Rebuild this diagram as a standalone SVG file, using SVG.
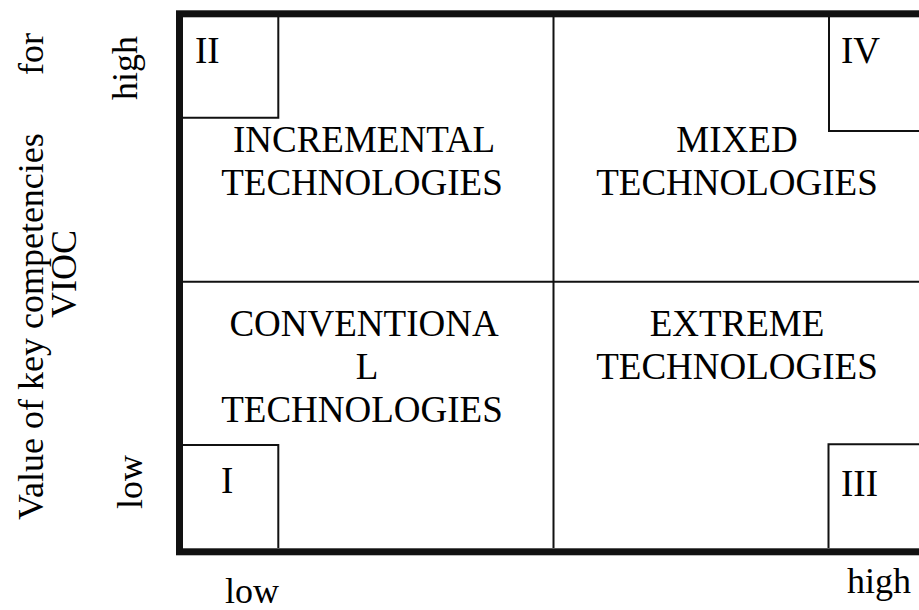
<svg xmlns="http://www.w3.org/2000/svg" width="919" height="610" viewBox="0 0 919 610">
<style>
text{font-family:"Liberation Serif","Times New Roman",serif;font-size:37px;fill:#000}
.c{text-anchor:middle}
.thin{fill:none;stroke:#111;stroke-width:2}
</style>
<rect x="0" y="0" width="919" height="610" fill="#fff"/>
<g id="axis-labels">
<text transform="translate(43,520) rotate(-90)" style="font-size:36px">Value of key competencies</text>
<text transform="translate(43,33) rotate(-90)" text-anchor="end" style="font-size:36px">for</text>
<text class="c" transform="translate(76,274) rotate(-90)" style="font-size:36px">VIOC</text>
<text class="c" transform="translate(137,68) rotate(-90)" style="font-size:36px">high</text>
<text class="c" transform="translate(142,482) rotate(-90)" style="font-size:36px">low</text>
<text class="c" x="252" y="603" style="font-size:36px">low</text>
<text x="847" y="593" style="font-size:36px">high</text>
</g>
<g id="connectors">
<line class="thin" x1="553.5" y1="17" x2="553.5" y2="548"/>
<line class="thin" x1="183" y1="281.7" x2="919" y2="281.7"/>
</g>
<g id="frame">
<rect x="179.5" y="13.8" width="780" height="538" fill="none" stroke="#111" stroke-width="7"/>
</g>
<g id="box-II">
<polyline class="thin" points="278.3,17 278.3,117.7 183,117.7"/>
<text x="195" y="63">II</text>
</g>
<g id="box-IV">
<polyline class="thin" points="829,17 829,131 919,131"/>
<text x="841" y="63">IV</text>
</g>
<g id="box-I">
<polyline class="thin" points="183,445 278.3,445 278.3,548"/>
<text x="221" y="493">I</text>
</g>
<g id="box-III">
<polyline class="thin" points="919,444.3 828.5,444.3 828.5,548"/>
<text x="841" y="496">III</text>
</g>
<g id="incremental">
<text class="c" x="364" y="152">INCREMENTAL</text>
<text class="c" x="362" y="195">TECHNOLOGIES</text>
</g>
<g id="mixed">
<text class="c" x="737" y="152">MIXED</text>
<text class="c" x="737" y="195">TECHNOLOGIES</text>
</g>
<g id="conventional">
<text class="c" x="364" y="336">CONVENTIONA</text>
<text class="c" x="367" y="379">L</text>
<text class="c" x="362" y="422">TECHNOLOGIES</text>
</g>
<g id="extreme">
<text class="c" x="737" y="336">EXTREME</text>
<text class="c" x="737" y="379">TECHNOLOGIES</text>
</g>
</svg>
